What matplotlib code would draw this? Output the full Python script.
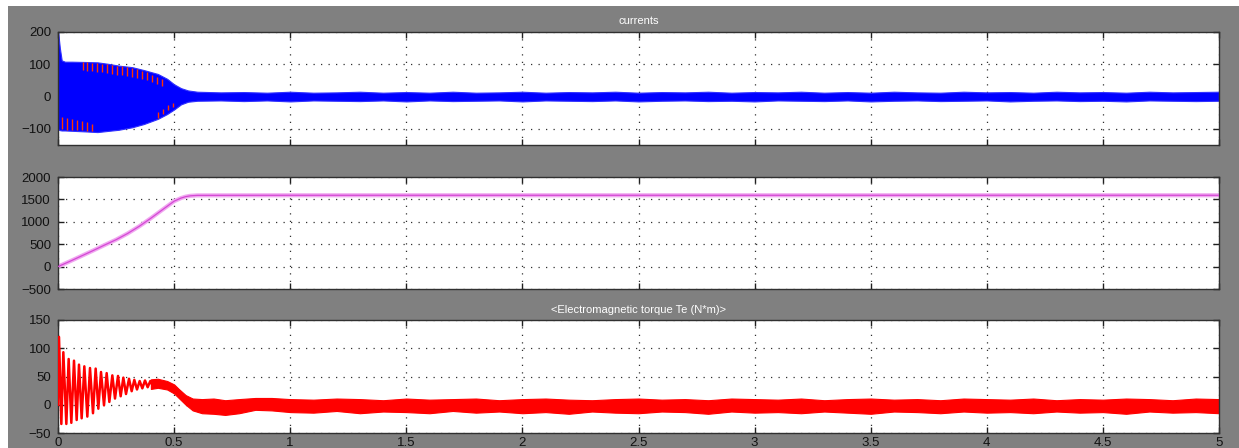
import numpy as np
import matplotlib
matplotlib.use("Agg")
import matplotlib.pyplot as plt
from matplotlib.patches import Rectangle

# ---------------- data ----------------
# stator currents: envelope of the dense blue trace (A)
cur_t = [0.0, 0.002, 0.008, 0.016, 0.03, 0.06, 0.12, 0.17, 0.22, 0.26, 0.32, 0.37, 0.43, 0.47,
         0.50, 0.53, 0.56, 0.60, 0.70, 0.80, 0.90, 1.00, 1.10, 1.20, 1.30, 1.40, 1.50, 1.60,
         1.70, 1.80, 1.90, 2.00, 2.10, 2.20, 2.30, 2.40, 2.50, 2.60, 2.70, 2.80, 2.90, 3.00,
         3.10, 3.20, 3.30, 3.40, 3.50, 3.60, 3.70, 3.80, 3.90, 4.00, 4.10, 4.20, 4.30, 4.40,
         4.50, 4.60, 4.70, 4.80, 4.90, 5.00]
cur_hi = [200, 190, 150, 112, 108, 108, 107, 106, 101, 96, 91, 82, 70, 55,
          38, 26, 19, 15, 13, 14, 12, 15, 12, 13, 15, 12, 14, 12,
          15, 12, 13, 15, 12, 14, 13, 15, 12, 14, 13, 15, 12, 14,
          13, 15, 12, 14, 12, 15, 13, 12, 15, 13, 14, 12, 15, 13,
          14, 12, 15, 13, 14, 15]
cur_lo = [-100, -102, -104, -105, -105, -106, -108, -110, -106, -103, -95, -85, -69, -54,
          -40, -24, -16, -13, -12, -14, -12, -15, -12, -13, -14, -12, -15, -12,
          -14, -13, -12, -15, -12, -13, -14, -12, -15, -13, -12, -14, -13, -15,
          -12, -13, -14, -12, -15, -13, -12, -14, -13, -12, -15, -13, -12, -14,
          -13, -15, -12, -13, -14, -13]

# red phase peaks showing over the blue band during start-up
red_top_t = [0.106, 0.126, 0.148, 0.167, 0.189, 0.210, 0.231, 0.253, 0.274, 0.296,
             0.317, 0.339, 0.360, 0.382, 0.403, 0.425, 0.446]
red_top_hi = [106, 106, 105, 104, 102, 100, 98, 96, 94, 91, 88, 85, 80, 75, 68, 62, 54]
red_top_lo = [82, 80, 78, 77, 75, 72, 70, 68, 66, 64, 62, 59, 55, 50, 44, 39, 32]
red_bot_t = [0.016, 0.037, 0.059, 0.080, 0.102, 0.126, 0.148, 0.430, 0.452, 0.474, 0.496]
red_bot_hi = [-64, -67, -70, -72, -76, -80, -84, -47, -37, -27, -20]
red_bot_lo = [-100, -102, -103, -104, -105, -106, -107, -66, -55, -42, -32]

# rotor speed (rpm)
spd_t = [0.0, 0.05, 0.10, 0.15, 0.20, 0.25, 0.30, 0.35, 0.40, 0.45, 0.50, 0.53, 0.55,
         0.57, 0.60, 1.00, 5.00]
spd_v = [0, 115, 235, 355, 480, 600, 740, 900, 1080, 1270, 1460, 1530, 1562, 1580,
         1590, 1592, 1592]

# electromagnetic torque: start-up oscillation extremes (N*m)
te_t = [0.0, 0.0043, 0.0144, 0.023, 0.0359, 0.0459, 0.0574, 0.0689, 0.0804, 0.0904,
        0.1019, 0.1134, 0.1263, 0.1378, 0.1507, 0.1622, 0.1737, 0.1852, 0.1981, 0.2096,
        0.2211, 0.234, 0.2455, 0.2584, 0.2699, 0.2814, 0.2929, 0.3058, 0.3173, 0.3287,
        0.3402, 0.3517, 0.3632, 0.3747, 0.3862, 0.3976, 0.405]
te_v = [0, 120, -34, 93, -34, 81, -32, 78, -27, 71, -24, 68, -21, 65, -15, 64, -7, 58,
        -1, 56, 5, 52, 11, 51, 15, 48, 19, 46, 24, 44, 27, 42, 29, 43, 31, 42, 36]

# electromagnetic torque: envelope of the ripple band after start-up
te_band_t = [0.40, 0.43, 0.47, 0.50, 0.52, 0.55, 0.58, 0.62, 0.67, 0.72, 0.78, 0.85,
             0.92, 1.00, 1.10, 1.20, 1.30, 1.40, 1.50, 1.60, 1.70, 1.80, 1.90, 2.00,
             2.10, 2.20, 2.30, 2.40, 2.50, 2.60, 2.70, 2.80, 2.90, 3.00, 3.10, 3.20,
             3.30, 3.40, 3.50, 3.60, 3.70, 3.80, 3.90, 4.00, 4.10, 4.20, 4.30, 4.40,
             4.50, 4.60, 4.70, 4.80, 4.90, 5.00]
te_hi = [45, 46, 42, 36, 28, 17, 11, 10, 11, 8, 10, 12, 12, 10, 9, 11, 10, 8, 11, 9,
         10, 11, 8, 10, 11, 9, 8, 10, 11, 9, 10, 8, 11, 10, 9, 11, 8, 10, 11, 9,
         10, 8, 11, 10, 9, 11, 8, 10, 9, 11, 10, 8, 11, 10]
te_lo = [28, 30, 27, 20, 12, 0, -10, -15, -16, -18, -15, -9, -10, -13, -14, -11, -15, -12,
         -13, -15, -11, -14, -12, -15, -13, -16, -12, -14, -15, -12, -13, -16, -12, -14,
         -13, -15, -12, -14, -16, -12, -13, -15, -12, -14, -13, -15, -12, -14, -13, -16,
         -12, -14, -13, -15]

x_ticks = [0, 0.5, 1, 1.5, 2, 2.5, 3, 3.5, 4, 4.5, 5]
x_ticklabels = ["0", "0.5", "1", "1.5", "2", "2.5", "3", "3.5", "4", "4.5", "5"]

# ---------------- figure ----------------
W, H = 1239, 448
fig = plt.figure(figsize=(W / 100, H / 100), dpi=100, facecolor="#808080")
fig.patches.append(Rectangle((0, 0), 8 / W, 1, transform=fig.transFigure,
                             facecolor="white", edgecolor="none", zorder=-5))
fig.patches.append(Rectangle((0, 1 - 6 / H), 1, 6 / H, transform=fig.transFigure,
                             facecolor="white", edgecolor="none", zorder=-5))

plt.rcParams["font.family"] = ["Liberation Sans", "DejaVu Sans"]

left, right = 58 / W, 1219 / W


def make_axes(top_px, bot_px):
    ax = fig.add_axes([left, 1 - bot_px / H, right - left, (bot_px - top_px) / H])
    ax.set_facecolor("white")
    ax.set_xlim(0, 5)
    ax.set_xticks(x_ticks)
    ax.grid(True, color="#303030", linestyle=(0, (1, 5)), linewidth=0.9)
    ax.set_axisbelow(True)
    ax.tick_params(direction="in", top=True, right=True, length=4, width=1,
                   color="#202020", labelsize=9.5, labelcolor="#111111", pad=5)
    for s in ax.spines.values():
        s.set_color("#303030")
        s.set_linewidth(1.0)
    return ax


ax1 = make_axes(32, 145)
ax2 = make_axes(177, 289)
ax3 = make_axes(320, 433)

# currents
ax1.set_ylim(-150, 200)
ax1.set_yticks([-100, 0, 100, 200])
ax1.fill_between(cur_t, cur_lo, cur_hi, color="#0000ff", linewidth=0.8, edgecolor="#3030ff", zorder=2)
ax1.vlines(red_top_t, red_top_lo, red_top_hi, color="#ff3300", linewidth=1.0, zorder=3)
ax1.vlines(red_bot_t, red_bot_lo, red_bot_hi, color="#ff3300", linewidth=1.0, zorder=3)
ax1.set_xticklabels([])
ax1.set_title("currents", color="white", fontsize=8, pad=6)

# speed
ax2.set_ylim(-500, 2000)
ax2.set_yticks([-500, 0, 500, 1000, 1500, 2000])
ax2.plot(spd_t, spd_v, color="#f0a8f0", linewidth=3, solid_capstyle="butt", zorder=2)
ax2.plot(spd_t, spd_v, color="#d448d4", linewidth=0.9, zorder=3)
ax2.set_xticklabels([])

# torque
ax3.set_ylim(-50, 150)
ax3.set_yticks([-50, 0, 50, 100, 150])
ax3.plot(te_t, te_v, color="#ff0000", linewidth=1.8, zorder=3)
ax3.fill_between(te_band_t, te_lo, te_hi, color="#ff0000", linewidth=0.8, edgecolor="#ff0000", zorder=2)
ax3.set_xticklabels(x_ticklabels)
ax3.tick_params(axis="x", pad=3)
ax3.set_title("<Electromagnetic torque Te (N*m)>", color="white", fontsize=8, pad=5)

fig.savefig("out.png", dpi=100, facecolor=fig.get_facecolor())
